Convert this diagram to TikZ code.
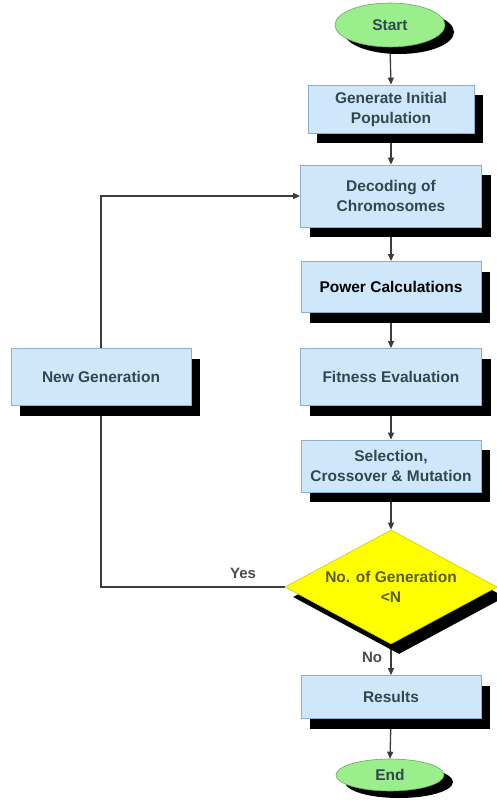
\documentclass[tikz,border=0pt]{standalone}
\usepackage{fontspec}
\setmainfont{Liberation Sans}
\usetikzlibrary{shapes.geometric,shadows,arrows.meta}
\pgfdeclarelayer{bg}
\pgfsetlayers{bg,main}
\definecolor{boxfill}{HTML}{CFE7FA}
\definecolor{boxdraw}{HTML}{8FB0CC}
\definecolor{txt}{HTML}{34474F}
\definecolor{greenfill}{HTML}{9AEE8C}
\definecolor{yel}{HTML}{FFFF00}
\definecolor{olive}{HTML}{5A5A18}
\definecolor{conn}{HTML}{3C3C3C}
\tikzset{
  base/.style={inner sep=0pt, align=center, text=txt,
    font=\fontsize{15.5}{20}\selectfont\bfseries},
  procbox/.style={base, rectangle, draw=boxdraw, line width=0.8pt, fill=boxfill,
    minimum width=180pt,
    general shadow={fill=black, shadow xshift=9pt, shadow yshift=-10pt}},
  term/.style={base, ellipse, draw=greenfill!70!black, line width=0.6pt, fill=greenfill,
    general shadow={fill=black, shadow xshift=9pt, shadow yshift=-7pt}},
  decision/.style={base, diamond, fill=yel, draw=yel!80!black, line width=0.6pt, text=olive,
    minimum width=212pt, minimum height=114pt, aspect=1.86,
    general shadow={fill=black, shadow xshift=8pt, shadow yshift=-10pt}},
  conn/.style={draw=conn, line width=1.3pt, -{Triangle[length=7pt,width=6pt]}},
  lbl/.style={text=black!70, font=\fontsize{15}{18}\selectfont\bfseries, inner sep=0pt}
}
\begin{document}
\begin{tikzpicture}[x=1pt,y=-1pt]
\useasboundingbox (0,0) rectangle (496,809);
\begin{pgfonlayer}{bg}
\fill[white] (0,0) rectangle (496,809);
\end{pgfonlayer}
\coordinate (cnr1) at (101,587);
\coordinate (cnr2) at (101,196);
% nodes
\node[term, minimum width=110pt, minimum height=44pt] (start) at (390,25) {Start};
\node[procbox, minimum width=166pt, minimum height=48pt] (gen) at (391,109) {Generate Initial\\Population};
\node[procbox, minimum width=181pt, minimum height=62pt] (dec) at (391,196) {Decoding of\\Chromosomes};
\node[procbox, minimum height=51pt, text=black] (pow) at (391,287) {Power Calculations};
\node[procbox, minimum width=181pt, minimum height=57pt] (fit) at (391,377) {Fitness Evaluation};
\node[procbox, minimum height=52pt] (sel) at (391,466) {Selection,\\Crossover \& Mutation};
\node[decision] (dia) at (391,587) {No. of Generation\\<N};
\node[procbox, minimum height=43pt] (res) at (391,697) {Results};
\node[term, minimum width=108pt, minimum height=32pt] (fin) at (390,775) {End};
\node[procbox, minimum height=57pt] (ng) at (101,377) {New Generation};
% connectors (behind the nodes and their shadows)
\begin{pgfonlayer}{bg}
\draw[conn] (start.south) -- (gen.north);
\draw[conn] (gen.south) -- (dec.north);
\draw[conn] (dec.south) -- (pow.north);
\draw[conn] (pow.south) -- (fit.north);
\draw[conn] (fit.south) -- (sel.north);
\draw[conn] (sel.south) -- (dia.north);
\draw[conn] (dia.south) -- (res.north);
\draw[conn] (res.south) -- (fin.north);
\draw[conn] (dia.west) -- (cnr1) -- (ng.south);
\draw[conn] (ng.north) -- (cnr2) -- (dec.west);
\end{pgfonlayer}
% labels
\node[lbl] (yes) at (243,573) {Yes};
\node[lbl] (no) at (372,657) {No};
\end{tikzpicture}
\end{document}
